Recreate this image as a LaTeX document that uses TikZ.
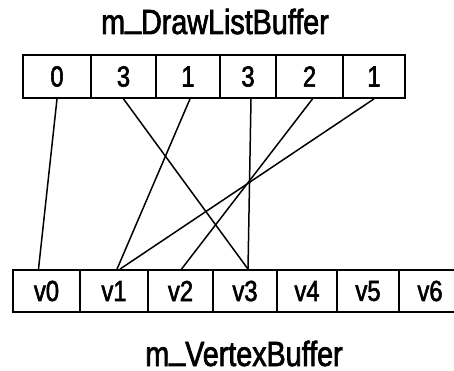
\documentclass[tikz,border=0pt]{standalone}
\usepackage{fontspec}
\setmainfont{Liberation Sans}[FakeBold=2,FakeStretch=0.82]
\newcommand\lowbar{\raisebox{0.2em}{\_}}
\tikzset{
  cell/.style={draw,line width=1.8pt,inner sep=0pt,minimum height=43pt,
    font=\fontsize{29}{29}\selectfont},
  buflabel/.style={anchor=base,font=\fontsize{35}{35}\selectfont},
  link/.style={line width=1.5pt}
}
\begin{document}
\begin{tikzpicture}[x=1pt,y=-1pt]
  \useasboundingbox (0,0) rectangle (454,371);
  \node[buflabel] (drawtitle) at (215,34) {m\lowbar DrawListBuffer};
  % index buffer cells
  \foreach \name/\l/\r/\idx in {d0/23/91/0,d1/91/156/3,d2/156/220/1,
      d3/220/276/3,d4/276/343/2,d5/343/405/1}{
    \pgfmathsetmacro\cellwd{\r-\l}
    \node[cell,minimum width=\cellwd pt] (\name) at ({(\l+\r)/2},76.5) {\idx};
  }
  % vertex cells (last one runs past the edge)
  \foreach \name/\l/\r in {v0/13/80,v1/80/148,v2/148/213,v3/213/277,
      v4/277/337,v5/337/399,v6/399/461}{
    \pgfmathsetmacro\cellwd{\r-\l}
    \node[cell,minimum width=\cellwd pt,minimum height=42pt] (\name) at ({(\l+\r)/2},291) {\name};
  }
  \node[buflabel] (vertextitle) at (244,366) {m\lowbar VertexBuffer};
  % indices to vertices
  \draw[link] (d0.south) -- ([xshift=-8pt]v0.north);
  \draw[link] (d1.south) -- ([xshift=3pt]v3.north);
  \draw[link] ([xshift=2pt]d2.south) -- ([xshift=3pt]v1.north);
  \draw[link] ([xshift=3pt]d3.south) -- ([xshift=3pt]v3.north);
  \draw[link] ([xshift=3pt]d4.south) -- ([xshift=1pt]v2.north);
  \draw[link] (d5.south) -- ([xshift=6pt]v1.north);
\end{tikzpicture}
\end{document}
